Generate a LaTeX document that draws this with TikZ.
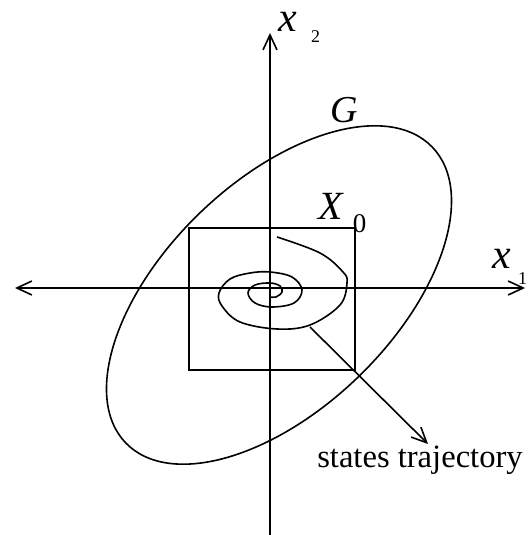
\documentclass[tikz,border=0pt]{standalone}
\usepackage{fontspec}
\setmainfont{Liberation Serif}
\usetikzlibrary{arrows.meta}

\begin{document}
\begin{tikzpicture}[
  x=0.5pt, y=0.5pt,
  barb/.tip={Straight Barb[length=7.5pt, width=7pt]},
  thinline/.style={line width=0.8pt, black},
  varlabel/.style={inner sep=0pt, anchor=base west, font=\fontsize{21}{24}\selectfont\itshape},
  setlabel/.style={inner sep=0pt, anchor=base west, font=\fontsize{20}{24}\selectfont\itshape},
  textlabel/.style={inner sep=0pt, anchor=base, font=\fontsize{16.3}{19}\selectfont}
]
  \useasboundingbox (-270,-247) rectangle (260,288);

  % --- Axes ---
  \coordinate (xleft)  at (-255,0);
  \coordinate (xright) at (255,0);
  \coordinate (ybot)   at (0,-247);
  \coordinate (ytop)   at (0,255);
  \draw[thinline, barb-barb] (xleft) -- (xright);
  \draw[thinline, -barb] (ybot) -- (ytop);

  \node[varlabel] (xone) at (222,19)
    {x\hspace{3.5pt}\raisebox{-8pt}{\upshape\fontsize{9}{10}\selectfont 1}};
  \node[varlabel] (xtwo) at (8,256)
    {x\hspace{7pt}\raisebox{-5.5pt}{\upshape\fontsize{9}{10}\selectfont 2}};

  % --- Region G (ellipse) and initial set X_0 (square) ---
  \draw[thinline, rotate around={44:(9,-7)}] (9,-7) ellipse [x radius=213, y radius=114];
  \draw[thinline] (-81,-82) rectangle (85,60);

  \node[textlabel, font=\fontsize{19}{22}\selectfont\itshape] (lblG) at (74,165) {G};
  \node[setlabel] (lblX) at (48,68)
    {X\hspace{5pt}\raisebox{-6.5pt}{\upshape\fontsize{13.5}{14}\selectfont 0}};

  % --- Spiral trajectory ---
  \draw[thinline] plot[smooth, tension=0.6] coordinates {
    (7,51) (50,35) (73,16) (77,5) (70,-17) (40,-37) (7,-41) (-30,-34)
    (-48,-18) (-51,-5) (-40,9) (-20,15) (0,16) (22,11) (32,-2) (24,-15)
    (2,-19) (-15,-15) (-22,-5) (-15,3) (0,5) (10,2) (12,-4) (6,-9) (0,-9)
  };

  % --- Pointer to the trajectory ---
  \node[textlabel] (traj) at (150,-179) {states trajectory};
  \coordinate (trajpt)  at (40,-39);
  \coordinate (trajtip) at (158,-156);
  \draw[thinline, -barb] (trajpt) -- (trajtip);

\end{tikzpicture}
\end{document}
